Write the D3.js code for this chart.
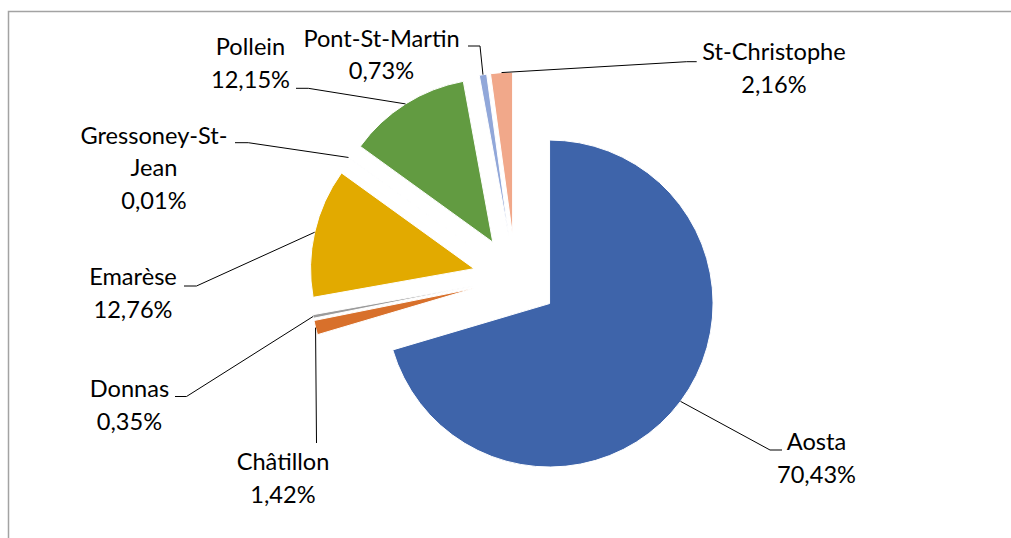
<!DOCTYPE html>
<html>
<head>
<meta charset="utf-8">
<script src="https://cdn.jsdelivr.net/npm/d3@7"></script>
<style>
  body { margin: 0; background: #fff; }
  svg { display: block; }
  .lbl { font-family: Lato, "Open Sans", sans-serif; font-size: 23.6px; fill: #000; }
</style>
</head>
<body>
<svg width="1011" height="538"></svg>
<script>
const categories = ['Aosta', 'Châtillon', 'Donnas', 'Emarèse', 'Gressoney-St-Jean', 'Pollein', 'Pont-St-Martin', 'St-Christophe'];
const shares = [70.43, 1.42, 0.35, 12.76, 0.01, 12.15, 0.73, 2.16];
const colors = ['#3E64AA', '#D8702B', '#9B9B9B', '#E2AA00', '#4A75B8', '#629B41', '#91A7D9', '#F1A88A'];

// manual label placement (label centre x, first baseline y, elbow, end of horizontal stub)
const labelLayout = [
    {x: 816.5, y: 450,   ex: 770,   ey: 450,   hx: 782},
    {x: 283,   y: 470,   ex: 316.5, ey: 443,   hx: 316.5},
    {x: 129.5, y: 397,   ex: 186.5, ey: 396.5, hx: 175},
    {x: 133,   y: 285,   ex: 196.5, ey: 286,   hx: 184},
    {x: 154,   y: 143.5, ex: 248.3, ey: 142.7, hx: 235},
    {x: 250.5, y: 55,    ex: 308.3, ey: 88.3,  hx: 296},
    {x: 381.5, y: 46.7,  ex: 480,   ey: 46,    hx: 468},
    {x: 774,   y: 60,    ex: 686.7, ey: 61.7,  hx: 696.7}
];

const cx = 515.5, cy = 278.1,
    radius = 163.5,
    explode = 42.5,
    lineHeight = 32.5;

const svg = d3.select('svg');

// chart frame (right and bottom edges fall outside the picture)
svg.append('rect')
    .attr('x', 8.5)
    .attr('y', 11.5)
    .attr('width', 1020)
    .attr('height', 600)
    .attr('fill', 'none')
    .attr('stroke', '#a3a3a3')
    .attr('stroke-width', 1.5);

const data = categories.map((c, i) => ({name: c, value: shares[i], color: colors[i], pos: labelLayout[i]}));

const pie = d3.pie()
    .sort(null)
    .value(d => d.value);

const arc = d3.arc()
    .innerRadius(0)
    .outerRadius(radius);

const arcs = pie(data);

const midAngle = d => (d.startAngle + d.endAngle) / 2;
const offset = (d, dist) => [Math.sin(midAngle(d)) * dist, -Math.cos(midAngle(d)) * dist];

const g = svg.append('g')
    .attr('transform', `translate(${cx},${cy})`);

g.selectAll('path.slice')
    .data(arcs)
    .enter().append('path')
    .attr('class', 'slice')
    .attr('d', arc)
    .attr('transform', d => {
        const o = offset(d, explode);
        return `translate(${o[0]},${o[1]})`;
    })
    .attr('fill', d => d.data.color)
    .attr('stroke', '#fff')
    .attr('stroke-width', 1);

// leader lines from the outer edge of each exploded slice
const line = d3.line();
svg.selectAll('path.leader')
    .data(arcs)
    .enter().append('path')
    .attr('class', 'leader')
    .attr('d', d => {
        const o = offset(d, explode + radius);
        const p = d.data.pos;
        return line([[cx + o[0], cy + o[1]], [p.ex, p.ey], [p.hx, p.ey]]);
    })
    .attr('fill', 'none')
    .attr('stroke', '#000')
    .attr('stroke-width', 1);

const fmt = d3.formatLocale({decimal: ',', thousands: '.', grouping: [3], currency: ['', '€']}).format('.2f');

const wrap = name => {
    if (name.length <= 15) return [name];
    const k = name.lastIndexOf('-') + 1;
    return [name.slice(0, k), name.slice(k)];
};

const labels = svg.selectAll('text.lbl')
    .data(arcs)
    .enter().append('text')
    .attr('class', 'lbl')
    .attr('text-anchor', 'middle');

labels.each(function(d) {
    const lines = wrap(d.data.name).concat([fmt(d.data.value) + '%']);
    d3.select(this).selectAll('tspan')
        .data(lines)
        .enter().append('tspan')
        .attr('x', d.data.pos.x)
        .attr('y', (t, i) => d.data.pos.y + i * lineHeight)
        .text(t => t);
});
</script>
</body>
</html>
